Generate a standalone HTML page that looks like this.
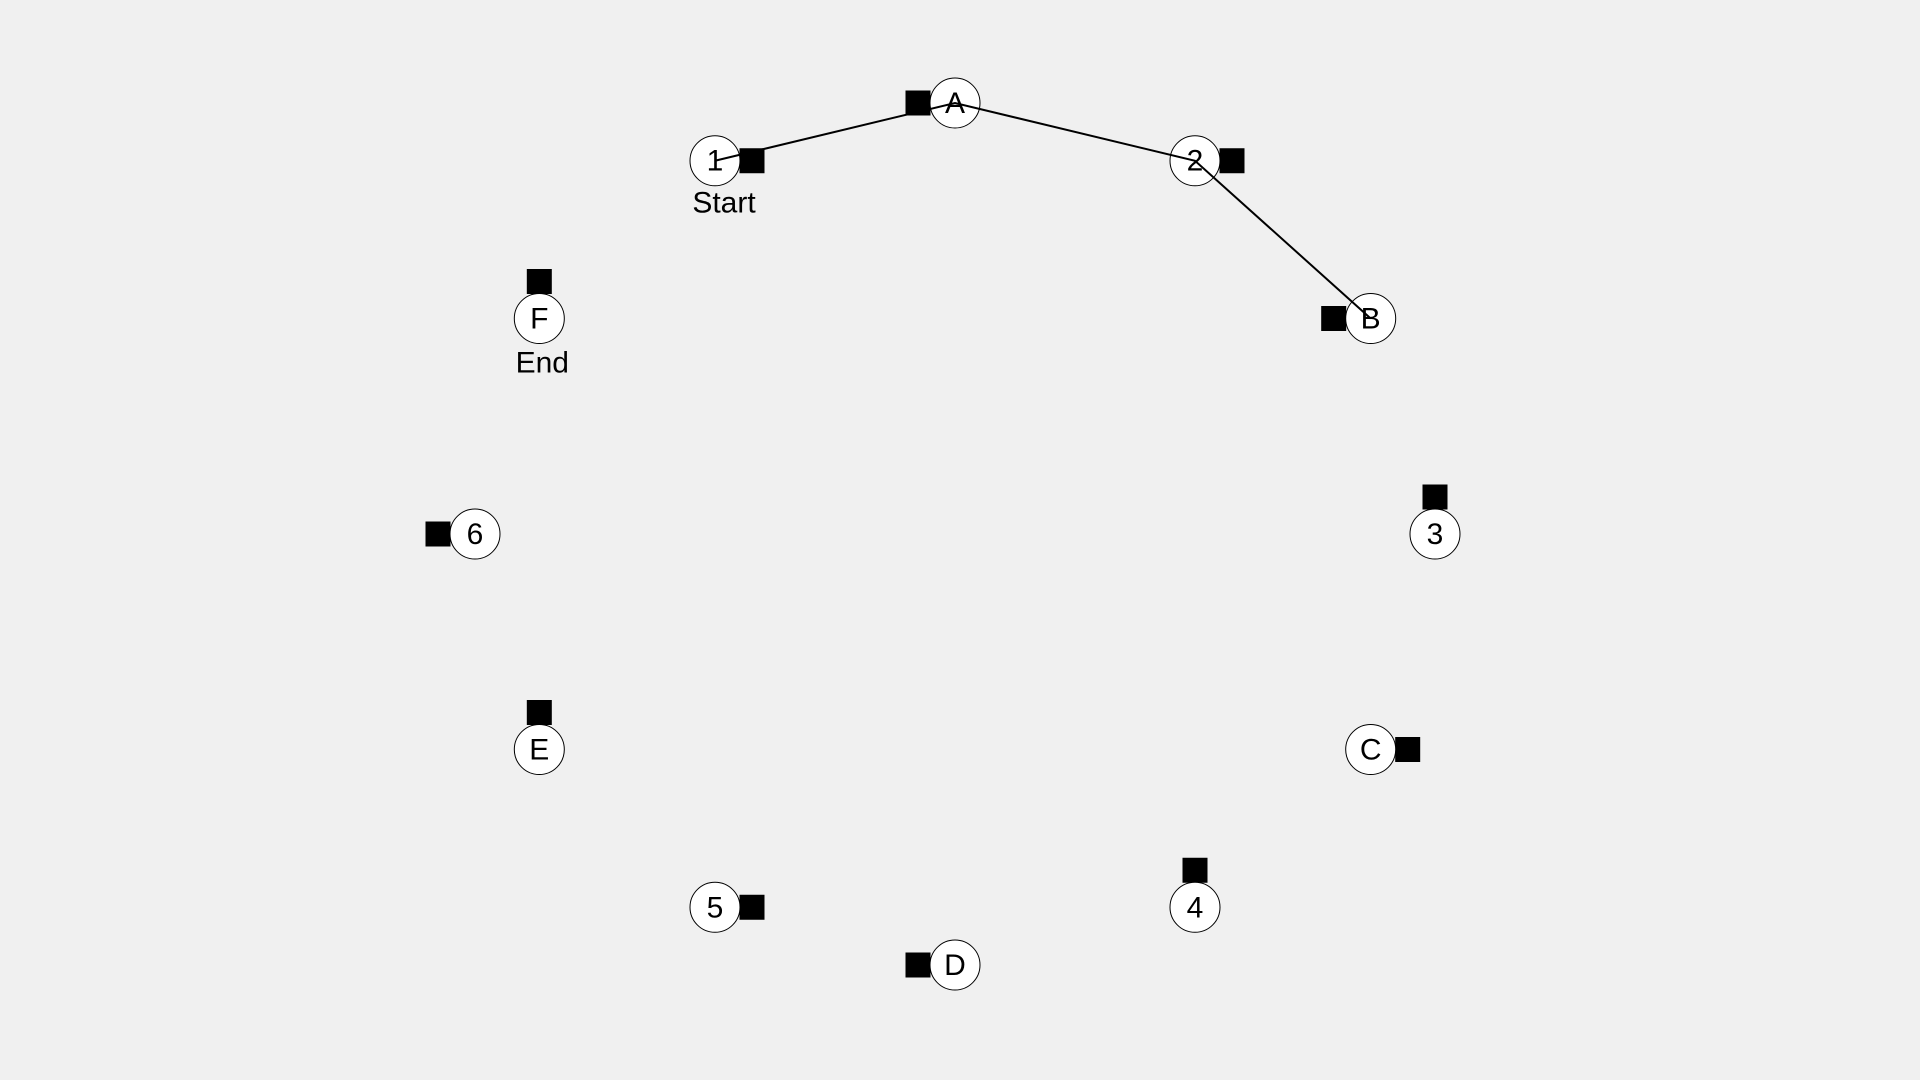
<!DOCTYPE html>
<html><head><meta charset="utf-8"><style>
html,body{margin:0;padding:0;background:#f0f0f0;}
svg{display:block;font-family:"Liberation Sans",Arial,sans-serif;}
</style></head><body>
<svg id="chart" width="1920" height="1080" viewBox="0 0 1920 1080"></svg>
<script>
const labels=["A","2","B","3","C","4","D","5","E","6","F","1"];
const angleDeg=[90,60,30,0,-30,-60,-90,-120,-150,180,150,120];
const markerDir=["left","right","left","up","right","up","left","right","up","left","up","right"];
const pathOrder=["1","A","2","B"];
const cx=955,cy=534,rx=480,ry=431,r=25,off=37,sq=25;
const NS="http://www.w3.org/2000/svg";
const svg=document.getElementById("chart");
function mk(t,a){const e=document.createElementNS(NS,t);for(const k in a)e.setAttribute(k,a[k]);return e;}
const pos={};
labels.forEach((l,i)=>{const a=angleDeg[i]*Math.PI/180;pos[l]=[cx+rx*Math.cos(a),cy-ry*Math.sin(a)];});
labels.forEach((l,i)=>{
  const [x,y]=pos[l];
  const d=markerDir[i];
  const dx=d==="left"?-off:d==="right"?off:0, dy=d==="up"?-off:0;
  const s=mk("rect",{x:x+dx-sq/2,y:y+dy-sq/2,width:sq,height:sq,fill:"#000"});
  
  
  svg.appendChild(s);
  const c=mk("circle",{cx:x,cy:y,r:r,fill:"#fff",stroke:"#000","stroke-width":1});
  
  
  svg.appendChild(c);
});
const pts=pathOrder.map(l=>pos[l].join(",")).join(" ");
const pl=mk("polyline",{points:pts,fill:"none",stroke:"#000","stroke-width":2});


svg.appendChild(pl);
labels.forEach(l=>{
  const [x,y]=pos[l];
  const t=mk("text",{x:x,y:y+10,"text-anchor":"middle","font-size":30,fill:"#000"});
  t.textContent=l;
  
  
  svg.appendChild(t);
});
const st=mk("text",{x:pos["1"][0]+9,y:pos["1"][1]+52,"text-anchor":"middle","font-size":30,fill:"#000"});
st.textContent="Start";


svg.appendChild(st);
const en=mk("text",{x:pos["F"][0]+3,y:pos["F"][1]+54,"text-anchor":"middle","font-size":30,fill:"#000"});
en.textContent="End";


svg.appendChild(en);
</script>
</body></html>
